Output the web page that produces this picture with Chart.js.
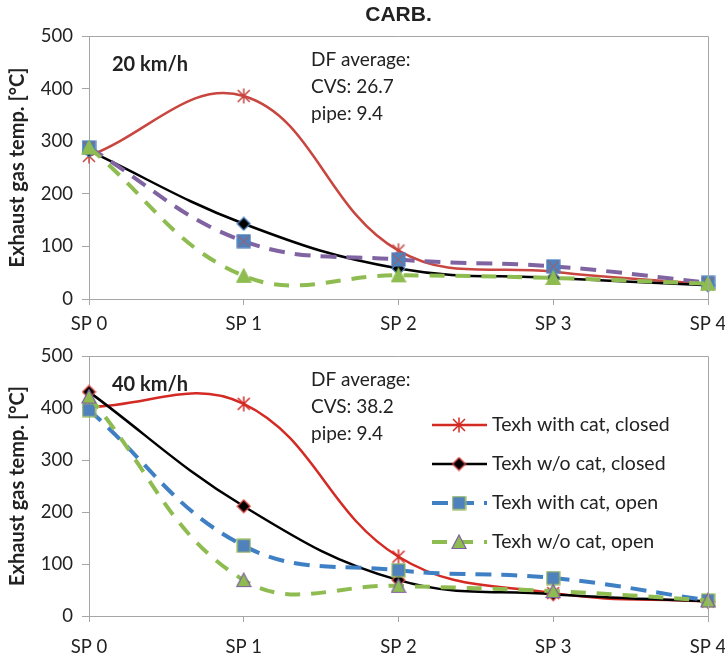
<!DOCTYPE html>
<html>
<head>
<meta charset="utf-8">
<script src="https://cdn.jsdelivr.net/npm/chart.js@4/dist/chart.umd.min.js"></script>
<style>
  html, body { margin: 0; padding: 0; background: #fff; }
  #wrap { position: relative; width: 725px; height: 658px; }
  .box { position: absolute; left: 0; width: 725px; }
  #top { top: 0; height: 332px; }
  #bot { top: 332px; height: 326px; }
</style>
</head>
<body>
<div id="wrap">
  <div class="box" id="top"><canvas id="c1"></canvas></div>
  <div class="box" id="bot"><canvas id="c2"></canvas></div>
</div>
<script>
// sampling points and axis
var spLabels = ['SP 0', 'SP 1', 'SP 2', 'SP 3', 'SP 4'];
var yMax = 500, yStep = 100;

var seriesNames = ['Texh with cat, closed', 'Texh w/o cat, closed', 'Texh with cat, open', 'Texh w/o cat, open'];

// 20 km/h
var withCatClosed20 = [272, 386, 92, 52, 28];
var woCatClosed20   = [282, 143, 58, 40, 26];
var withCatOpen20   = [288, 110, 75, 62, 31];
var woCatOpen20     = [288, 44, 45, 40, 29];

// 40 km/h
var withCatClosed40 = [402, 408, 114, 44, 28];
var woCatClosed40   = [431, 211, 69, 42, 28];
var withCatOpen40   = [396, 135, 88, 73, 30];
var woCatOpen40     = [422, 69, 58, 48, 30];

var FONT = 'Lato, "Liberation Sans", sans-serif';
var AXIS_GREY = '#a6a6a6';

// little canvases used as point markers
function marker(kind, fill, stroke, size, cross) {
  var c = document.createElement('canvas');
  c.width = c.height = size;
  var g = c.getContext('2d');
  var m = size / 2;
  g.lineWidth = 1.2;
  g.strokeStyle = stroke;
  g.fillStyle = fill;
  if (kind === 'star') {
    g.lineWidth = 1.5;
    g.beginPath();
    g.moveTo(2, 2); g.lineTo(size - 2, size - 2);
    g.moveTo(size - 2, 2); g.lineTo(2, size - 2);
    g.moveTo(m, 0.5); g.lineTo(m, size - 0.5);
    g.stroke();
  } else if (kind === 'diamond') {
    g.beginPath();
    g.moveTo(m, 1); g.lineTo(size - 1, m); g.lineTo(m, size - 1); g.lineTo(1, m);
    g.closePath(); g.fill(); g.stroke();
  } else if (kind === 'square') {
    g.fillRect(1, 1, size - 2, size - 2);
    g.strokeRect(1, 1, size - 2, size - 2);
    if (cross) {
      g.strokeStyle = cross; g.lineWidth = 1;
      g.beginPath();
      g.moveTo(2, 2); g.lineTo(size - 2, size - 2);
      g.moveTo(size - 2, 2); g.lineTo(2, size - 2);
      g.stroke();
    }
  } else if (kind === 'triangle') {
    g.beginPath();
    g.moveTo(m, 1); g.lineTo(size - 1, size - 1.5); g.lineTo(1, size - 1.5);
    g.closePath(); g.fill(); g.stroke();
  }
  return c;
}

var frame = {
  id: 'frame',
  afterDraw: function(chart, args, o) {
    var a = chart.chartArea, ctx = chart.ctx;
    ctx.save();
    ctx.strokeStyle = AXIS_GREY; ctx.lineWidth = 1;
    ctx.beginPath();
    ctx.moveTo(a.left, a.top + 0.5); ctx.lineTo(a.right + 0.5, a.top + 0.5); ctx.lineTo(a.right + 0.5, a.bottom);
    ctx.stroke();

    // axis title
    ctx.fillStyle = '#222';
    ctx.font = 'bold 20px ' + FONT;
    ctx.textAlign = 'center'; ctx.textBaseline = 'middle';
    ctx.translate(18, (a.top + a.bottom) / 2);
    ctx.rotate(-Math.PI / 2);
    ctx.fillText('Exhaust gas temp. [°C]', 0, 0);
    ctx.restore();
  },
  beforeDatasetsDraw: function(chart, args, o) {
    var a = chart.chartArea, ctx = chart.ctx;
    ctx.save();
    ctx.fillStyle = '#222';
    ctx.textBaseline = 'middle'; ctx.textAlign = 'left';
    if (o.title) {
      ctx.font = 'bold 21px "Liberation Sans", Arial, sans-serif';
      ctx.textAlign = 'center';
      ctx.fillText(o.title, (a.left + a.right) / 2, 15);
      ctx.textAlign = 'left';
    }
    ctx.font = 'bold 20px ' + FONT;
    ctx.fillText(o.speed, 112, a.top + 29);
    ctx.font = '19px ' + FONT;
    o.notes.forEach(function(t, i) {
      ctx.fillText(t, 311, a.top + 24 + i * 27);
    });
    ctx.restore();
  }
};

var legendBox = {
  id: 'legendBox',
  afterDraw: function(chart, args, o) {
    if (!o.show) return;
    var ctx = chart.ctx;
    ctx.save();
    chart.data.datasets.forEach(function(ds, i) {
      var y = 93 + i * 39;
      ctx.strokeStyle = ds.borderColor;
      ctx.lineWidth = ds.borderWidth;
      ctx.setLineDash(ds.borderDash || []);
      ctx.beginPath(); ctx.moveTo(432, y); ctx.lineTo(487, y); ctx.stroke();
      ctx.setLineDash([]);
      var p = ds.pointStyle;
      ctx.drawImage(p, 459 - p.width / 2, y - p.height / 2);
      ctx.fillStyle = '#222';
      ctx.font = '19.5px ' + FONT;
      ctx.textBaseline = 'middle';
      ctx.fillText(ds.label, 492, y);
    });
    ctx.restore();
  }
};

function makeChart(id, values, styles, opts) {
  var datasets = values.map(function(v, i) {
    var s = styles[i];
    return {
      label: seriesNames[i],
      data: v,
      borderColor: s.color,
      borderWidth: s.width,
      borderDash: s.dash,
      pointStyle: s.marker,
      pointRadius: 6,
      tension: 0.4,
      fill: false,
      clip: false,
      order: values.length - i
    };
  });

  return new Chart(document.getElementById(id), {
    type: 'line',
    data: { labels: spLabels, datasets: datasets },
    options: {
      responsive: true,
      maintainAspectRatio: false,
      animation: false,
      layout: { padding: { top: opts.padTop, right: 17, left: 0, bottom: 0 } },
      plugins: {
        legend: { display: false },
        tooltip: { enabled: false },
        frame: { title: opts.title, speed: opts.speed, notes: opts.notes },
        legendBox: { show: opts.legend }
      },
      scales: {
        x: {
          offset: false,
          grid: { drawOnChartArea: false, drawTicks: true, tickLength: 6, color: AXIS_GREY },
          border: { color: AXIS_GREY },
          ticks: { font: { family: FONT, size: 18.5 }, color: '#222', padding: opts.xPad, maxRotation: 0 },
          afterFit: function(s) {
            s.height = opts.xHeight;
            // end labels may hang over the plot edges
            s.paddingLeft = 0; s.paddingRight = 0;
          }
        },
        y: {
          min: 0, max: yMax,
          grid: { drawOnChartArea: false, drawTicks: true, tickLength: 7, color: AXIS_GREY },
          border: { color: AXIS_GREY },
          ticks: { stepSize: yStep, font: { family: FONT, size: 18.5 }, color: '#222', padding: 9 },
          afterFit: function(s) {
            s.width = 89;
            s.paddingTop = 0; s.paddingBottom = 0;
          }
        }
      }
    },
    plugins: [frame, legendBox]
  });
}

makeChart('c1',
  [withCatClosed20, woCatClosed20, withCatOpen20, woCatOpen20],
  [
    { color: '#c9453f', width: 2.5, marker: marker('star', '#c9453f', '#c9453f', 16) },
    { color: '#000000', width: 2.5, marker: marker('diamond', '#000000', '#4f81bd', 15) },
    { color: '#8064a2', width: 4, dash: [16, 10], marker: marker('square', '#4f81bd', '#4f81bd', 15, '#c0504d') },
    { color: '#8fbc50', width: 4, dash: [15, 11], marker: marker('triangle', '#8fbc50', '#8fbc50', 16) }
  ],
  { padTop: 36, xHeight: 33, xPad: 8, title: 'CARB.', speed: '20 km/h', notes: ['DF average:', 'CVS: 26.7', 'pipe: 9.4'], legend: false }
);

makeChart('c2',
  [withCatClosed40, woCatClosed40, withCatOpen40, woCatOpen40],
  [
    { color: '#d42a24', width: 2.5, marker: marker('star', '#d42a24', '#d42a24', 16) },
    { color: '#000000', width: 2.5, marker: marker('diamond', '#000000', '#e04a44', 15) },
    { color: '#3f7fc4', width: 4, dash: [16, 10], marker: marker('square', '#4f81bd', '#9bbb59', 15) },
    { color: '#8fbc50', width: 4, dash: [15, 11], marker: marker('triangle', '#8fbc50', '#7d60a0', 16) }
  ],
  { padTop: 24, xHeight: 42, xPad: 14, title: null, speed: '40 km/h', notes: ['DF average:', 'CVS: 38.2', 'pipe: 9.4'], legend: true }
);
</script>
</body>
</html>
